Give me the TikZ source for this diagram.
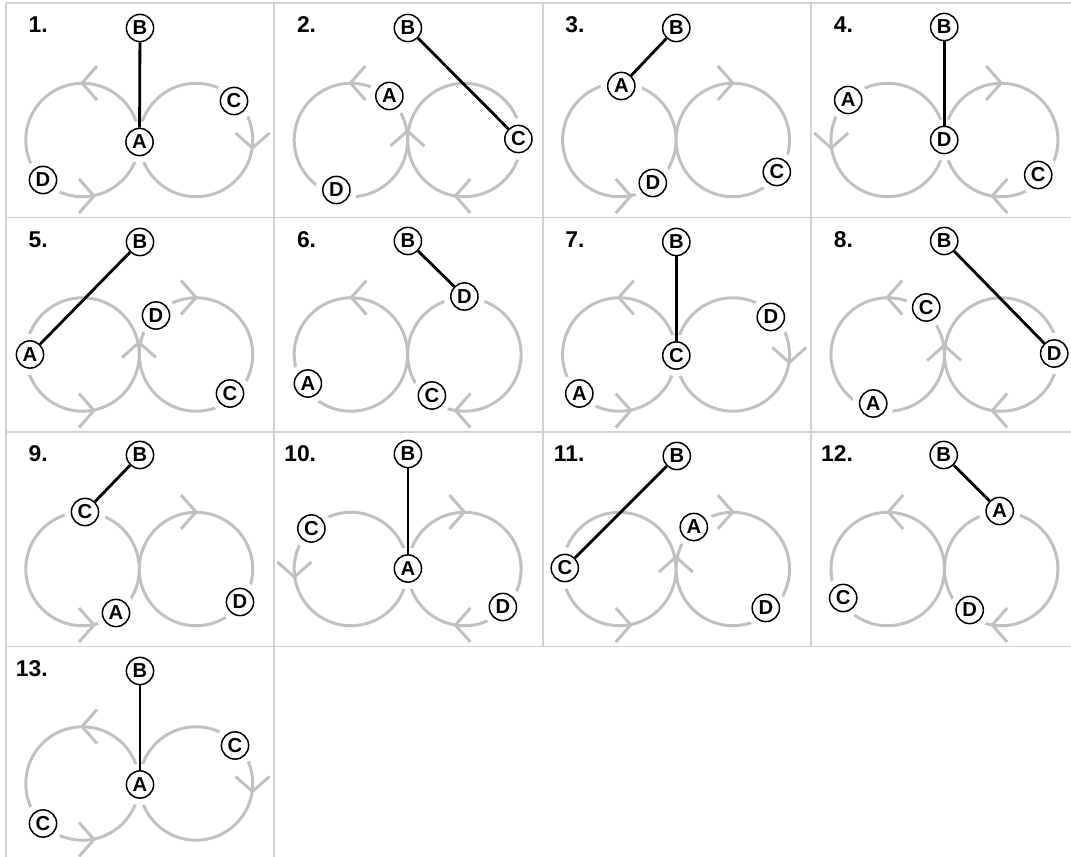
\documentclass[tikz,border=0pt]{standalone}
\usepackage{fontspec}
\setmainfont{Liberation Sans}
\definecolor{loopgray}{RGB}{192,192,192}
\definecolor{gridgray}{RGB}{210,210,210}

\begin{document}
\begin{tikzpicture}[x=0.02cm,y=-0.02cm,
letter/.style={circle,draw,line width=0.85pt,fill=white,inner sep=0pt,minimum size=15.5pt,
  font=\fontsize{11.5}{11.5}\selectfont\bfseries,preaction={draw=white,line width=8pt}},
link/.style={line width=1.6pt},
num/.style={anchor=base east,inner sep=0pt,font=\fontsize{13}{13}\selectfont\bfseries},
loopline/.style={draw=loopgray,line width=1.7pt},
gridline/.style={draw=gridgray,line width=1.1pt},
chev/.pic={\draw[loopline] (-15,17) -- (0,0) -- (-15,-17);},
loops/.pic={\draw[loopline] (76.5,137) circle[radius=1.135cm] (190,137) circle[radius=1.135cm];}]
\useasboundingbox (0,0) rectangle (1071,857);
% grid
\draw[gridline] (6,3) -- (1071,3);
\draw[gridline] (6,217.5) -- (1071,217.5);
\draw[gridline] (6,432) -- (1071,432);
\draw[gridline] (6,646.5) -- (1071,646.5);
\draw[gridline] (6,3) -- (6,857);
\draw[gridline] (274.4,3) -- (274.4,857);
\draw[gridline] (542.8,3) -- (542.8,646.5);
\draw[gridline] (811.2,3) -- (811.2,646.5);

% 1
\begin{scope}[shift={(6,3)}]
\pic {loops};
\pic[rotate=180] at (76,80) {chev};
\pic[rotate=-90] at (246.5,145) {chev};
\pic at (88,193) {chev};
\node[num] (N1) at (42,30) {1.};
\node[letter] (B1) at (134,25) {B};
\node[letter] (A1) at (133.5,139) {A};
\node[letter] (C1) at (228,98) {C};
\node[letter] (D1) at (37,177) {D};
\draw[link] (B1)--(A1);
\end{scope}

% 2
\begin{scope}[shift={(274.4,3)}]
\pic {loops};
\pic[rotate=180] at (76,80) {chev};
\pic[rotate=90] at (133,128) {chev};
\pic[rotate=180] at (181,193) {chev};
\node[num] (N2) at (42,30) {2.};
\node[letter] (B2) at (133.5,25) {B};
\node[letter] (A2) at (115,93) {A};
\node[letter] (C2) at (244,136) {C};
\node[letter] (D2) at (62,187) {D};
\draw[link] (B2)--(C2);
\end{scope}

% 3
\begin{scope}[shift={(542.8,3)}]
\pic {loops};
\pic at (190,80) {chev};
\pic at (88,193) {chev};
\node[num] (N3) at (42,30) {3.};
\node[letter] (B3) at (133.5,25) {B};
\node[letter] (A3) at (78.5,83) {A};
\node[letter] (D3) at (110,180) {D};
\node[letter] (C3) at (234,169) {C};
\draw[link] (B3)--(A3);
\end{scope}

% 4
\begin{scope}[shift={(811.2,3)}]
\pic {loops};
\pic at (190,80) {chev};
\pic[rotate=-90] at (20,145) {chev};
\pic[rotate=180] at (181,193) {chev};
\node[num] (N4) at (42,30) {4.};
\node[letter] (B4) at (133,24) {B};
\node[letter] (A4) at (37,97) {A};
\node[letter] (D4) at (133,137) {D};
\node[letter] (C4) at (227,172) {C};
\draw[link] (B4)--(D4);
\end{scope}

% 5
\begin{scope}[shift={(6,217.5)}]
\pic {loops};
\pic[rotate=90] at (133,125) {chev};
\pic at (190,80) {chev};
\pic at (88,193) {chev};
\node[num] (N5) at (42,30) {5.};
\node[letter] (B5) at (134,24.5) {B};
\node[letter] (A5) at (24,137) {A};
\node[letter] (D5) at (150,98) {D};
\node[letter] (C5) at (224,176) {C};
\draw[link] (B5)--(A5);
\end{scope}

% 6
\begin{scope}[shift={(274.4,217.5)}]
\pic {loops};
\pic[rotate=180] at (77,80) {chev};
\pic[rotate=180] at (181,193) {chev};
\node[num] (N6) at (42,30) {6.};
\node[letter] (B6) at (133.5,23.5) {B};
\node[letter] (D6) at (190,79) {D};
\node[letter] (A6) at (33.5,166) {A};
\node[letter] (C6) at (157.5,178) {C};
\draw[link] (B6)--(D6);
\end{scope}

% 7
\begin{scope}[shift={(542.8,217.5)}]
\pic {loops};
\pic[rotate=180] at (76,80) {chev};
\pic[rotate=-90] at (246.5,145) {chev};
\pic at (88,193) {chev};
\node[num] (N7) at (42,30) {7.};
\node[letter] (B7) at (133.5,24.5) {B};
\node[letter] (C7) at (133.5,138) {C};
\node[letter] (D7) at (228,99.5) {D};
\node[letter] (A7) at (36.5,176) {A};
\draw[link] (B7)--(C7);
\end{scope}

% 8
\begin{scope}[shift={(811.2,217.5)}]
\pic {loops};
\pic[rotate=180] at (76,80) {chev};
\pic[rotate=90] at (133,128) {chev};
\pic[rotate=180] at (181,193) {chev};
\node[num] (N8) at (42,30) {8.};
\node[letter] (B8) at (133,23.5) {B};
\node[letter] (C8) at (115,90) {C};
\node[letter] (D8) at (243,136) {D};
\node[letter] (A8) at (62,186) {A};
\draw[link] (B8)--(D8);
\end{scope}

% 9
\begin{scope}[shift={(6,432)}]
\pic {loops};
\pic at (190,80) {chev};
\pic at (88,193) {chev};
\node[num] (N9) at (42,30) {9.};
\node[letter] (B9) at (134,23) {B};
\node[letter] (C9) at (79,80) {C};
\node[letter] (A9) at (110,181) {A};
\node[letter] (D9) at (234,170) {D};
\draw[link] (B9)--(C9);
\end{scope}

% 10
\begin{scope}[shift={(274.4,432)}]
\pic {loops};
\pic at (190,80) {chev};
\pic[rotate=-90] at (20,145) {chev};
\pic[rotate=180] at (181,193) {chev};
\node[num] (N10) at (42,30) {10.};
\node[letter] (B10) at (133.5,22) {B};
\node[letter] (A10) at (133.5,136.5) {A};
\node[letter] (C10) at (37,96.5) {C};
\node[letter] (D10) at (228.5,175) {D};
\draw[link] (B10)--(A10);
\end{scope}

% 11
\begin{scope}[shift={(542.8,432)}]
\pic {loops};
\pic[rotate=90] at (133,125) {chev};
\pic at (190,80) {chev};
\pic at (88,193) {chev};
\node[num] (N11) at (42,30) {11.};
\node[letter] (B11) at (134,24) {B};
\node[letter] (C11) at (22,136) {C};
\node[letter] (A11) at (151,95) {A};
\node[letter] (D11) at (223,176) {D};
\draw[link] (B11)--(C11);
\end{scope}

% 12
\begin{scope}[shift={(811.2,432)}]
\pic {loops};
\pic[rotate=180] at (77,80) {chev};
\pic[rotate=180] at (181,193) {chev};
\node[num] (N12) at (42,30) {12.};
\node[letter] (B12) at (132.5,23) {B};
\node[letter] (A12) at (188.5,79) {A};
\node[letter] (C12) at (32,166) {C};
\node[letter] (D12) at (158.5,178) {D};
\draw[link] (B12)--(A12);
\end{scope}

% 13
\begin{scope}[shift={(6,646.5)}]
\pic {loops};
\pic[rotate=180] at (76,80) {chev};
\pic[rotate=-90] at (246.5,145) {chev};
\pic at (88,193) {chev};
\node[num] (N13) at (42,30) {13.};
\node[letter] (B13) at (134,24.5) {B};
\node[letter] (A13) at (134,138) {A};
\node[letter] (C13) at (229,99) {C};
\node[letter] (C13b) at (37,177) {C};
\draw[link] (B13)--(A13);
\end{scope}
\end{tikzpicture}
\end{document}
